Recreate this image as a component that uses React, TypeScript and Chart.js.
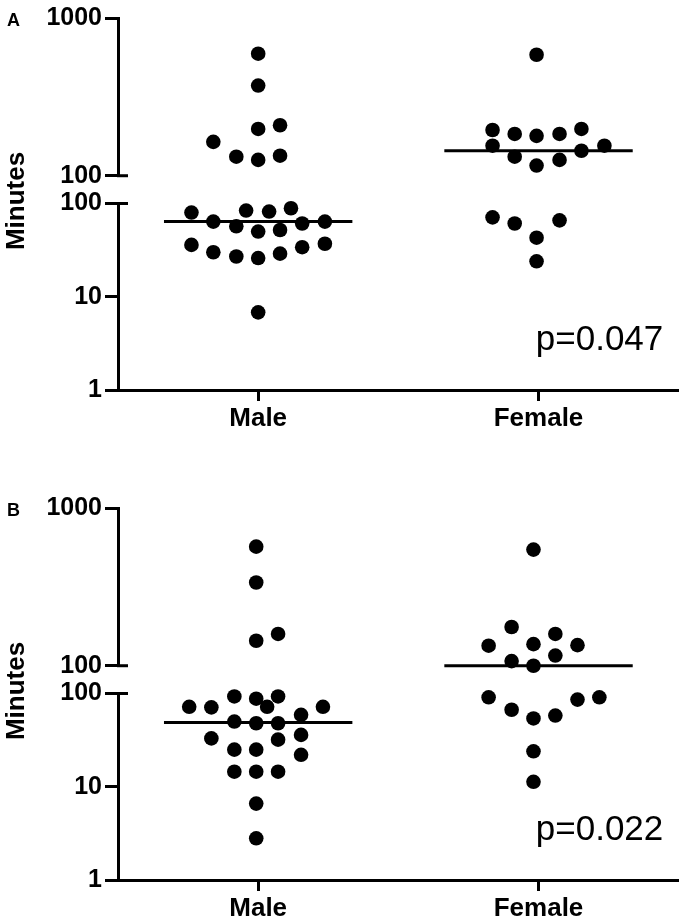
import { useEffect, useRef } from 'react'
import { Chart, registerables } from 'chart.js'

Chart.register(...registerables)

const groups = ['Male', 'Female']
const upperTicks = [100, 1000]
const lowerTicks = [1, 10, 100]

// Panel A
const maleAValues = [594, 373, 198, 209, 164, 132, 126, 134, 80, 64, 57, 84, 82, 89, 50, 52, 61, 64, 36, 30, 27, 26, 29, 34, 37, 6.8]
const maleAJitter = [0, 0, 0, 0.078, -0.16, -0.078, 0, 0.078, -0.238, -0.16, -0.078, -0.043, 0.039, 0.117, 0, 0.078, 0.157, 0.238, -0.238, -0.16, -0.078, 0, 0.078, 0.157, 0.238, 0]
const femaleAValues = [585, 195, 184, 179, 184, 198, 155, 144, 155, 132, 116, 126, 71, 61, 66, 43, 24]
const femaleAJitter = [-0.007, -0.164, -0.085, -0.007, 0.075, 0.153, -0.164, 0.153, 0.235, -0.085, -0.007, 0.075, -0.164, -0.085, 0.075, -0.007, -0.007]
const mediansA = [64, 144]

// Panel B
const maleBValues = [569, 337, 144, 159, 72, 71, 93, 88, 93, 72, 59, 72, 50, 48, 48, 33, 36, 32, 25, 25, 22, 14.5, 14.5, 14.5, 6.6, 2.8]
const maleBJitter = [-0.007, -0.007, -0.007, 0.071, -0.246, -0.167, -0.085, -0.007, 0.071, 0.032, 0.153, 0.231, -0.085, -0.007, 0.071, -0.167, 0.153, 0.071, -0.085, -0.007, 0.153, -0.085, -0.007, 0.071, -0.007, -0.007]
const femaleBValues = [545, 176, 134, 137, 159, 135, 107, 100, 116, 91, 91, 86, 67, 54, 58, 24, 11.3]
const femaleBJitter = [-0.018, -0.096, -0.178, -0.018, 0.06, 0.139, -0.096, -0.018, 0.06, -0.178, 0.217, 0.139, -0.096, -0.018, 0.06, -0.018, -0.018]
const mediansB = [49, 100]

const medianSpan = 0.336
const BREAK = 100

const FONT = 'Arial, "Liberation Sans", sans-serif'

interface PanelProps {
  letter: string
  male: number[]
  maleJitter: number[]
  female: number[]
  femaleJitter: number[]
  medians: number[]
  pText: string
  top: number
}

function toPoints(values: number[], jitter: number[], center: number, upper: boolean) {
  return values
    .map((v, i) => ({ x: center + jitter[i], y: v }))
    .filter(p => (upper ? p.y >= BREAK : p.y < BREAK))
}

function Panel({ letter, male, maleJitter, female, femaleJitter, medians, pText, top }: PanelProps) {
  const canvasRef = useRef<HTMLCanvasElement>(null)

  useEffect(() => {
    if (!canvasRef.current) return
    const ctx = canvasRef.current.getContext('2d')
    if (!ctx) return

    const dot = {
      showLine: false,
      pointRadius: 7.3,
      pointHoverRadius: 7.3,
      pointBackgroundColor: '#000',
      pointBorderWidth: 0,
      clip: false as const,
    }

    const datasets: any[] = []
    const series = [
      { values: male, jitter: maleJitter },
      { values: female, jitter: femaleJitter },
    ]
    series.forEach((s, gi) => {
      const center = gi + 1
      datasets.push({ ...dot, label: groups[gi] + ' high', data: toPoints(s.values, s.jitter, center, true), yAxisID: 'yTop' })
      datasets.push({ ...dot, label: groups[gi] + ' low', data: toPoints(s.values, s.jitter, center, false), yAxisID: 'yBot' })
      const med = medians[gi]
      datasets.push({
        label: groups[gi] + ' median',
        data: [
          { x: center - medianSpan, y: med },
          { x: center + medianSpan, y: med },
        ],
        showLine: true,
        borderColor: '#000',
        borderWidth: 3,
        pointRadius: 0,
        clip: false,
        yAxisID: med >= BREAK ? 'yTop' : 'yBot',
      })
    })

    const axisLine = { color: '#000', width: 3 }
    const tickGrid = { drawOnChartArea: false, drawTicks: true, tickLength: 13, tickWidth: 3, tickColor: '#000' }
    const yTickFont = { family: FONT, size: 25, weight: 'bold' as const }

    const decor = {
      id: 'decor',
      afterDraw(chart: Chart) {
        const c = chart.ctx
        const area = chart.chartArea
        const yTop = chart.scales.yTop
        const yBot = chart.scales.yBot
        const x = chart.scales.x
        c.save()
        c.strokeStyle = '#000'
        c.lineWidth = 3
        const caps = [yTop.bottom, yBot.top]
        caps.forEach(y => {
          c.beginPath()
          c.moveTo(area.left - 1, y)
          c.lineTo(area.left + 10, y)
          c.stroke()
        })
        c.fillStyle = '#000'
        c.font = `bold 18px ${FONT}`
        c.textAlign = 'left'
        c.textBaseline = 'alphabetic'
        c.fillText(letter, 7, 26)

        c.save()
        c.translate(24, (area.top + area.bottom) / 2 - 3)
        c.rotate(-Math.PI / 2)
        c.font = `bold 26px ${FONT}`
        c.textAlign = 'center'
        c.fillText('Minutes', 0, 0)
        c.restore()

        c.font = `35px ${FONT}`
        c.textAlign = 'right'
        c.fillText(pText, x.getPixelForValue(2.445), yBot.getPixelForValue(2.67))
        c.restore()
      },
    }

    // stacked left axes are laid out bottom-up in the order listed
    const chart = new Chart(ctx, {
      type: 'scatter',
      data: { datasets },
      options: {
        responsive: true,
        maintainAspectRatio: false,
        animation: false,
        events: [],
        layout: { padding: { top: 13, right: 5, left: 0, bottom: 0 } },
        plugins: {
          legend: { display: false },
          tooltip: { enabled: false },
        },
        scales: {
          x: {
            type: 'linear',
            min: 0.5,
            max: 2.5,
            border: axisLine,
            grid: { ...tickGrid, tickLength: 11 },
            afterBuildTicks: (axis: any) => {
              axis.ticks = groups.map((_, i) => ({ value: i + 1 }))
            },
            afterFit: (axis: any) => {
              axis.height = 43
            },
            ticks: {
              color: '#000',
              padding: 2,
              autoSkip: false,
              maxRotation: 0,
              font: { family: FONT, size: 26, weight: 'bold' },
              callback: (v: any) => groups[Number(v) - 1] ?? '',
            },
          },
          yBot: {
            type: 'logarithmic',
            position: 'left',
            stack: 'minutes',
            stackWeight: 188,
            min: 1,
            max: 100,
            border: axisLine,
            grid: tickGrid,
            afterBuildTicks: (axis: any) => {
              axis.ticks = lowerTicks.map(v => ({ value: v }))
            },
            afterFit: (axis: any) => {
              axis.width = 118
            },
            ticks: {
              color: '#000',
              padding: 3,
              autoSkip: false,
              font: yTickFont,
              callback: (v: any) => String(v),
            },
          },
          yGap: {
            type: 'linear',
            position: 'left',
            stack: 'minutes',
            stackWeight: 28,
            border: { display: false },
            grid: { display: false },
            ticks: { display: false },
            afterFit: (axis: any) => {
              axis.width = 118
            },
          },
          yTop: {
            type: 'logarithmic',
            position: 'left',
            stack: 'minutes',
            stackWeight: 159,
            min: 100,
            max: 1000,
            border: axisLine,
            grid: tickGrid,
            afterBuildTicks: (axis: any) => {
              axis.ticks = upperTicks.map(v => ({ value: v }))
            },
            afterFit: (axis: any) => {
              axis.width = 118
            },
            ticks: {
              color: '#000',
              padding: 3,
              autoSkip: false,
              font: yTickFont,
              callback: (v: any) => String(v),
            },
          },
        },
      } as any,
      plugins: [decor],
    })

    return () => {
      chart.destroy()
    }
  }, [letter, male, maleJitter, female, femaleJitter, medians, pText])

  return (
    <div style={{ position: 'absolute', left: 0, top, width: 686, height: 433 }}>
      <canvas ref={canvasRef} />
    </div>
  )
}

export default function App() {
  useEffect(() => {
    document.body.style.margin = '0'
  }, [])

  return (
    <div style={{ position: 'relative', width: 686, height: 923, background: '#fff', overflow: 'hidden' }}>
      <Panel
        letter="A"
        male={maleAValues}
        maleJitter={maleAJitter}
        female={femaleAValues}
        femaleJitter={femaleAJitter}
        medians={mediansA}
        pText="p=0.047"
        top={0}
      />
      <Panel
        letter="B"
        male={maleBValues}
        maleJitter={maleBJitter}
        female={femaleBValues}
        femaleJitter={femaleBJitter}
        medians={mediansB}
        pText="p=0.022"
        top={490}
      />
    </div>
  )
}
